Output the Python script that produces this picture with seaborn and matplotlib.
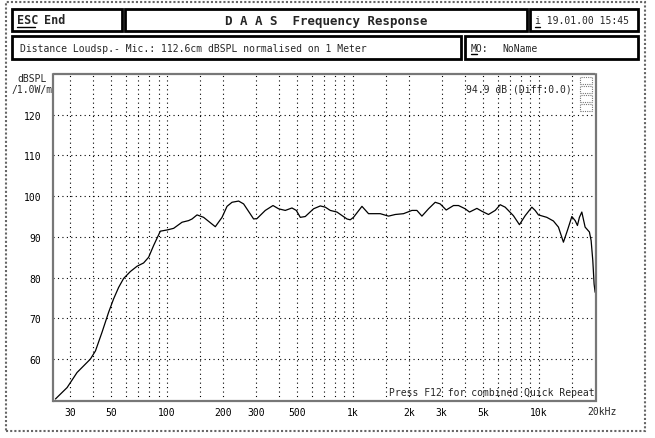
import numpy as np
import pandas as pd
import matplotlib
matplotlib.use("Agg")
import matplotlib.pyplot as plt
from matplotlib.patches import Rectangle
import seaborn as sns

# Frequency response
freq_hz = [25.1, 29.0, 32.8, 38.7, 41.2, 44.7, 48.5, 51.6, 54.9, 58.4,
           63.5, 69.0, 74.8, 79.6, 84.7, 92.0, 100, 108.5, 120.4, 130.6,
           136.3, 145.0, 157.3, 181.8, 197.6, 210.2, 223.6, 242.7, 258.1, 292.2,
           304.7, 337.7, 371.5, 398.1, 432.5, 469.9, 495.7, 521.0, 554.0, 614.0,
           667.3, 709.9, 755.1, 820.4, 928.5, 967.1, 1007, 1118, 1213, 1402,
           1554, 1689, 1871, 2076, 2208, 2350, 2550, 2770, 2947, 3174,
           3475, 3697, 4017, 4238, 4642, 4938, 5358, 5823, 6194, 6589,
           7301, 7864, 8441, 9170, 9553, 9950, 11040, 11980, 12750, 13560,
           14250, 15050, 15680, 16130, 16530, 17030, 17740, 18710, 19110, 19510,
           19830, 20080]
level_db = [50.2, 53.0, 56.7, 60.0, 62.0, 66.6, 71.5, 74.8, 77.6, 79.8,
            81.5, 82.8, 83.6, 85.0, 87.9, 91.4, 91.7, 92.1, 93.6, 94.0,
            94.4, 95.4, 94.8, 92.5, 94.8, 97.5, 98.5, 98.8, 98.1, 94.4,
            94.5, 96.5, 97.7, 96.9, 96.5, 97.1, 96.5, 94.8, 95.0, 96.9,
            97.6, 97.3, 96.5, 96.1, 94.4, 94.2, 94.8, 97.5, 95.7, 95.7,
            95.1, 95.5, 95.7, 96.5, 96.5, 95.1, 96.9, 98.5, 98.1, 96.6,
            97.7, 97.7, 96.9, 96.1, 97.0, 96.3, 95.5, 96.5, 97.9, 97.3,
            95.2, 93.0, 95.2, 97.3, 96.5, 95.4, 94.8, 93.9, 92.4, 88.7,
            91.6, 95.0, 94.0, 92.8, 94.8, 96.1, 92.4, 91.2, 89.1, 84.2,
            78.4, 76.4]

x_ticks = [30, 50, 100, 200, 300, 500, 1000, 2000, 3000, 5000, 10000]
x_tick_labels = ["30", "50", "100", "200", "300", "500", "1k", "2k", "3k", "5k", "10k"]
x_grid = ([30, 40, 50, 60, 70, 80, 90, 100, 150]
          + list(range(200, 1001, 100)) + [1500]
          + list(range(2000, 10001, 1000)) + [15000])
y_ticks = [60, 70, 80, 90, 100, 110, 120]

sns.set_theme(style="white")
plt.rcParams["font.family"] = ["DejaVu Sans Mono"]

W, H = 655, 439
fig = plt.figure(figsize=(W / 100, H / 100), dpi=100)
fig.patch.set_facecolor("white")


def fx(px):
    return px / W


def fy(py):
    return 1 - py / H


def box(x0, y0, x1, y1, **kw):
    fig.patches.append(Rectangle((fx(x0), fy(y1)), fx(x1) - fx(x0), fy(y0) - fy(y1),
                                 transform=fig.transFigure, fill=False, **kw))


# outer dotted frame and header boxes
box(6, 3, 645, 432, edgecolor="#666666", lw=1.5, ls=(0, (1, 1)))
for x0, x1 in [(12, 122), (125, 527), (530, 638)]:
    box(x0, 10, x1, 32, edgecolor="black", lw=2)
for x0, x1 in [(12, 461), (465, 638)]:
    box(x0, 37, x1, 60, edgecolor="black", lw=2)

fig.text(fx(17), fy(21), "ESC", fontsize=8.5, weight="bold", va="center")
fig.lines.append(plt.Line2D([fx(17), fx(35)], [fy(28), fy(28)], color="black", lw=1,
                            transform=fig.transFigure))
fig.text(fx(44), fy(21), "End", fontsize=8.5, weight="bold", va="center")
fig.text(fx(326), fy(21), "D A A S  Frequency Response", fontsize=9, weight="bold",
         ha="center", va="center")
fig.text(fx(535), fy(21), "i 19.01.00 15:45", fontsize=7, va="center")
fig.lines.append(plt.Line2D([fx(535), fx(540)], [fy(28), fy(28)], color="black", lw=1,
                            transform=fig.transFigure))
fig.text(fx(20), fy(48.5), "Distance Loudsp.- Mic.: 112.6cm dBSPL normalised on 1 Meter",
         fontsize=7, va="center")
fig.text(fx(471), fy(48.5), "MO:", fontsize=7, va="center")
fig.lines.append(plt.Line2D([fx(471), fx(477)], [fy(55), fy(55)], color="black", lw=1,
                            transform=fig.transFigure))
fig.text(fx(502), fy(48.5), "NoName", fontsize=7, va="center")

fig.text(fx(17), fy(79), "dBSPL", fontsize=7, va="center")
fig.text(fx(12), fy(90), "/1.0W/m", fontsize=7, va="center")

ax = fig.add_axes([fx(53.5), fy(402), fx(596) - fx(53.5), fy(75) - fy(402)])
df = pd.DataFrame({"freq": freq_hz, "db": level_db})
sns.lineplot(data=df, x="freq", y="db", color="black", lw=0.9, ax=ax, sort=False)
ax.set_xscale("log")
ax.set_xlim(24.5, 20300)
ax.set_ylim(49.7, 130)
ax.set_xlabel("")
ax.set_ylabel("")

for xv in x_grid:
    ax.axvline(xv, color="black", lw=0.8, ls=(0, (1, 3)), zorder=0)
for yv in y_ticks:
    ax.axhline(yv, color="black", lw=0.8, ls=(0, (1, 3)), zorder=0)

ax.set_xticks(x_ticks)
ax.set_xticklabels(x_tick_labels)
ax.xaxis.set_minor_locator(matplotlib.ticker.NullLocator())
ax.set_yticks(y_ticks)
ax.set_yticklabels([str(v) for v in y_ticks])
ax.tick_params(length=0, labelsize=7, colors="black")
ax.tick_params(axis="x", pad=4)
ax.tick_params(axis="y", pad=9)
ax.annotate("20kHz", xy=(20000, 0), xycoords=("data", "axes fraction"),
            xytext=(5, -7.5), textcoords="offset points", ha="center", va="center",
            fontsize=7, annotation_clip=False)

for sp in ax.spines.values():
    sp.set_color("#777777")
    sp.set_linewidth(1.6)
    sp.set_linestyle((0, (1, 1)))

ax.text(0.955, 0.957, "94.9 dB (Diff:0.0)", transform=ax.transAxes, fontsize=7,
        ha="right", va="center")
ax.text(0.997, 0.013, "Press F12 for combined Quick Repeat", transform=ax.transAxes,
        fontsize=7, ha="right", va="bottom")

# small status indicator in the corner of the plot
for i in range(4):
    box(580, 78 + i * 9, 592, 85 + i * 9, edgecolor="#777777", lw=0.8, ls=(0, (1, 1)))

fig.savefig("out.png", dpi=100)
